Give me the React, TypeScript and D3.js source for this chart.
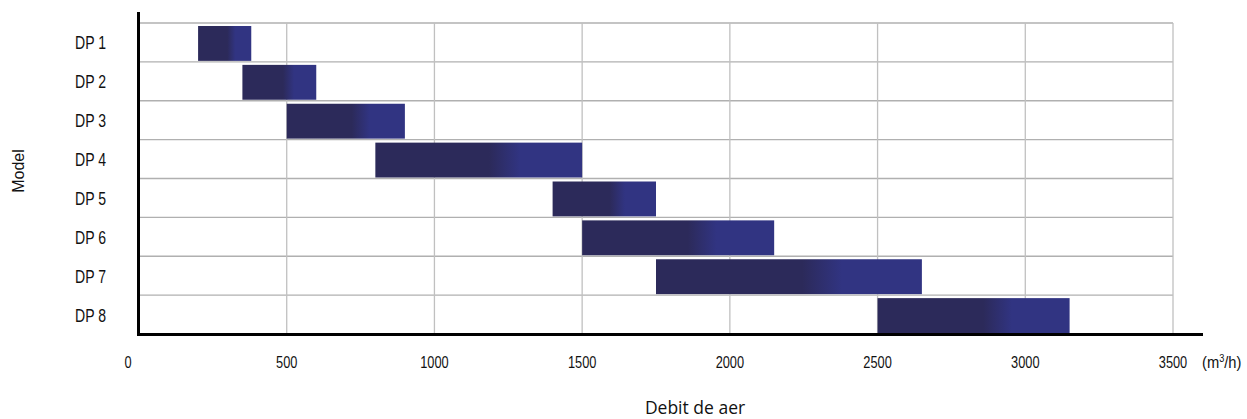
import React from "react";
import * as d3 from "d3";

const models = ["DP 1", "DP 2", "DP 3", "DP 4", "DP 5", "DP 6", "DP 7", "DP 8"];
const flowMin = [200, 350, 500, 800, 1400, 1500, 1750, 2500];
const flowMax = [380, 600, 900, 1500, 1750, 2150, 2650, 3150];
const xTicks = [0, 500, 1000, 1500, 2000, 2500, 3000, 3500];

const W = 1247;
const H = 419;
const x0 = 139;
const x1 = 1173;
const yTop = 23;
const yBot = 334;

export default function App() {
  const x = d3.scaleLinear().domain([0, 3500]).range([x0, x1]);
  const y = d3.scaleBand<string>().domain(models).range([yTop, yBot]).padding(0);
  const bw = y.bandwidth();
  const cond = "'Liberation Sans', Arial, sans-serif";

  return (
    <svg width={W} height={H} style={{ position: "absolute", left: 0, top: 0, background: "#fff" }}>
      <defs>
        <linearGradient id="barGrad" x1="0" y1="0" x2="1" y2="0">
          <stop offset="0" stopColor="#2c2a5a" />
          <stop offset="0.55" stopColor="#2c2a5a" />
          <stop offset="0.7" stopColor="#313482" />
          <stop offset="1" stopColor="#313482" />
        </linearGradient>
      </defs>
      {models.map((m) => (
        <line key={"h" + m} x1={x0} x2={x1} y1={y(m)!} y2={y(m)!} stroke="#b0b0b0" strokeWidth={1.3} />
      ))}
      {xTicks.slice(1).map((t) => (
        <line key={"v" + t} x1={x(t)} x2={x(t)} y1={yTop} y2={yBot} stroke="#c0c0c0" strokeWidth={1.3} />
      ))}
      {models.map((m, i) => (
        <rect
          key={"b" + m}
          x={x(flowMin[i])}
          y={y(m)! + 3}
          width={x(flowMax[i]) - x(flowMin[i])}
          height={bw - 4}
          fill="url(#barGrad)"
        />
      ))}
      <line x1={138.5} x2={138.5} y1={12} y2={336} stroke="#000" strokeWidth={3} />
      <line x1={137} x2={1203} y1={334.5} y2={334.5} stroke="#000" strokeWidth={3} />
      {models.map((m) => (
        <text
          key={"l" + m}
          transform={`translate(106,${y(m)! + bw / 2 + 7}) scale(0.74,1)`}
          textAnchor="end"
          fontFamily={cond}
          fontSize={19}
          fill="#111"
        >
          {m}
        </text>
      ))}
      {xTicks.map((t) => (
        <text
          key={"t" + t}
          transform={`translate(${x(t) + (t === 0 ? -11 : 0)},368) scale(0.8,1)`}
          textAnchor="middle"
          fontFamily={cond}
          fontSize={16}
          fill="#111"
        >
          {t}
        </text>
      ))}
      <text transform="translate(1202,368) scale(0.92,1)" fontFamily={cond} fontSize={16} fill="#111">
        (m<tspan dy={-6} fontSize={10}>3</tspan>
        <tspan dy={6}>/h)</tspan>
      </text>
      <text x={695} y={414} textAnchor="middle" fontFamily="'Open Sans', 'Liberation Sans', sans-serif" fontSize={17.5} fill="#111">
        Debit de aer
      </text>
      <text
        transform={`translate(24,171) rotate(-90)`}
        textAnchor="middle"
        fontFamily="'Liberation Sans', Arial, sans-serif"
        fontSize={16}
        fill="#111"
      >
        Model
      </text>
    </svg>
  );
}
